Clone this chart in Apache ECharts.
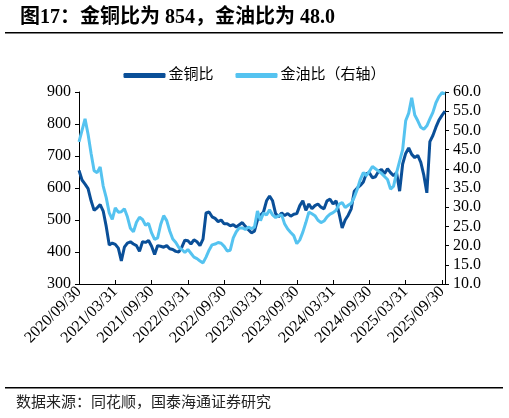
<!DOCTYPE html>
<html>
<head>
<meta charset="utf-8">
<script src="https://cdn.jsdelivr.net/npm/echarts@6/dist/echarts.min.js"></script>
<style>
html,body{margin:0;padding:0;background:#fff;}
#c{width:509px;height:418px;}
</style>
</head>
<body>
<div id="c"></div>
<script>
// Half-month observation dates, 2020/09/30 .. 2025/10/15
const categories = (function(){
  const out = [];
  for (let i = 0; i < 122; i++) {
    const k = Math.floor(i / 2);
    let y = 2020 + Math.floor((8 + k) / 12);
    let m = (8 + k) % 12; // 0-based month
    if (i % 2 === 0) {
      const d = new Date(Date.UTC(y, m + 1, 0)).getUTCDate();
      out.push(y + '/' + String(m + 1).padStart(2, '0') + '/' + String(d).padStart(2, '0'));
    } else {
      let m2 = m + 1, y2 = y;
      if (m2 > 11) { m2 = 0; y2 = y + 1; }
      out.push(y2 + '/' + String(m2 + 1).padStart(2, '0') + '/15');
    }
  }
  return out;
})();

// 金铜比 (left axis)
const goldCopper = [
  655,625,612,598,560,530,538,548,528,480,422,428,
  424,412,372,415,428,432,425,420,402,432,430,436,
  418,392,420,418,415,420,410,408,402,400,415,437,
  435,425,438,432,420,440,522,525,510,505,495,500,
  488,488,482,485,478,485,492,480,470,460,465,500,
  515,525,560,575,560,520,510,522,514,520,512,518,
  520,545,560,530,550,535,545,550,540,535,560,565,
  550,560,520,475,500,515,535,590,600,608,619,645,
  648,632,635,652,658,645,660,648,638,648,590,675,
  708,725,705,695,702,680,640,585,745,764,790,812,
  827,840
];

// 金油比 (right axis)
const goldOil = [
  47.0,50.0,53.0,49.0,44.0,39.5,39.0,40.5,35.5,32.5,28.5,26.8,
  29.8,28.7,28.8,29.6,27.5,24.5,23.6,26.1,27.4,26.8,25.3,25.8,
  23.3,21.6,22.0,25.5,27.8,26.5,23.8,21.7,20.8,19.5,19.0,18.2,
  19.0,18.0,17.0,16.6,16.0,15.5,17.0,18.8,20.2,20.4,20.8,20.6,
  19.8,18.6,18.8,22.0,23.6,24.6,24.6,24.2,24.8,24.4,24.8,29.0,
  26.5,28.5,28.0,29.3,28.0,27.3,27.8,28.0,25.6,24.3,23.4,22.6,
  20.5,21.5,23.5,26.0,28.7,28.3,27.8,26.6,26.0,26.4,27.5,28.2,
  28.6,29.2,30.8,31.2,29.9,30.5,31.0,32.6,34.7,37.2,39.0,38.2,
  39.3,40.6,40.0,39.4,38.8,38.0,37.2,34.7,35.5,39.0,42.0,45.0,
  52.5,54.5,58.5,54.0,52.5,50.8,50.3,51.2,53.0,54.7,57.2,58.8,
  59.8,59.5
];

const leftTicks = { min: 300, max: 900, interval: 100 };
const rightTicks = { min: 10, max: 60, interval: 5 };

const titleText = '图17：金铜比为 854，金油比为 48.0';
const sourceText = '数据来源：同花顺，国泰海通证券研究';
const seriesNames = ['金铜比', '金油比（右轴）'];

const FONT = '"Liberation Serif", "Noto Sans CJK SC", serif';
const DARK = '#0a4f98';
const LIGHT = '#55c3f0';

const chart = echarts.init(document.getElementById('c'), null, { renderer: 'canvas' });
chart.setOption({
  backgroundColor: '#fff',
  animation: false,
  title: {
    text: titleText,
    left: 15,
    top: 3,
    textStyle: { fontFamily: FONT, fontSize: 20, fontWeight: 'bold', color: '#000' }
  },
  graphic: [
    { type: 'rect', shape: { x: 5, y: 32, width: 498, height: 1.6 }, style: { fill: '#000' } },
    { type: 'rect', shape: { x: 5, y: 387, width: 498, height: 1.6 }, style: { fill: '#000' } },
    { type: 'text', left: 16, top: 396, style: { text: sourceText, font: '15px ' + FONT, fill: '#222' } }
  ],
  legend: {
    top: 63,
    left: 'center',
    itemWidth: 42,
    itemHeight: 5,
    itemGap: 22,
    icon: 'roundRect',
    textStyle: { fontFamily: FONT, fontSize: 15, color: '#000', padding: [0, 0, 0, -2] },
    data: seriesNames
  },
  grid: { left: 79, right: 64, top: 92, bottom: 134, containLabel: false },
  xAxis: {
    type: 'category',
    data: categories,
    boundaryGap: false,
    axisLine: { lineStyle: { color: '#000', width: 1 } },
    axisTick: { inside: true, interval: 11, length: 4, lineStyle: { color: '#000' } },
    axisLabel: {
      interval: 11, rotate: 45, fontFamily: FONT, fontSize: 16, color: '#000', margin: 5
    },
    splitLine: { show: false }
  },
  yAxis: [
    {
      type: 'value', min: leftTicks.min, max: leftTicks.max, interval: leftTicks.interval,
      axisLine: { show: true, lineStyle: { color: '#000' } },
      axisTick: { show: true, length: 4, lineStyle: { color: '#000' } },
      axisLabel: { fontFamily: FONT, fontSize: 16, color: '#000', margin: 8 },
      splitLine: { show: false }
    },
    {
      type: 'value', min: rightTicks.min, max: rightTicks.max, interval: rightTicks.interval,
      position: 'right',
      axisLine: { show: true, lineStyle: { color: '#000' } },
      axisTick: { show: true, length: 4, lineStyle: { color: '#000' } },
      axisLabel: { fontFamily: FONT, fontSize: 16, color: '#000', margin: 8,
        formatter: v => v.toFixed(1) },
      splitLine: { show: false }
    }
  ],
  series: [
    {
      name: seriesNames[0], type: 'line', yAxisIndex: 0, data: goldCopper,
      showSymbol: false, symbol: 'none',
      lineStyle: { color: DARK, width: 3 }, itemStyle: { color: DARK }
    },
    {
      name: seriesNames[1], type: 'line', yAxisIndex: 1, data: goldOil,
      showSymbol: false, symbol: 'none',
      lineStyle: { color: LIGHT, width: 3 }, itemStyle: { color: LIGHT }
    }
  ]
});
</script>
</body>
</html>
